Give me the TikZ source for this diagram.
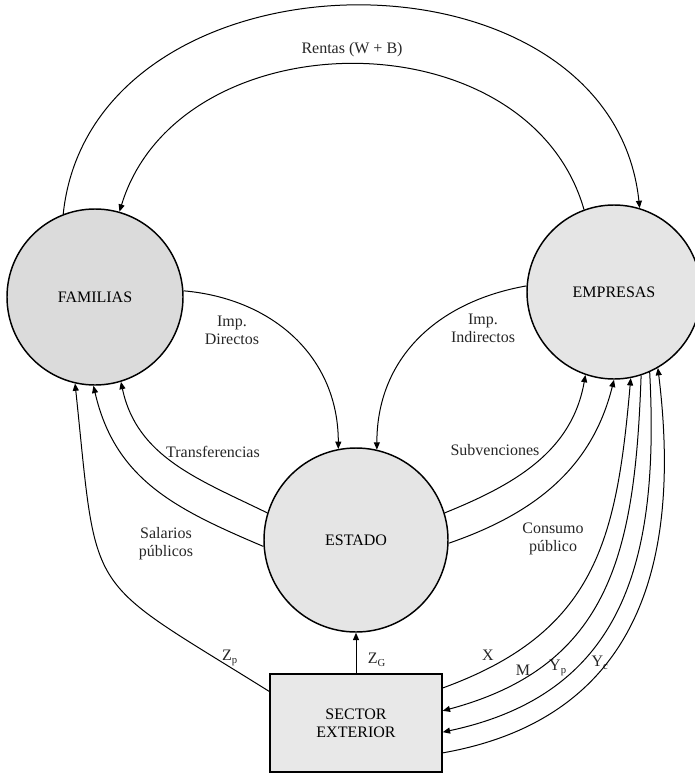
\documentclass[tikz,border=0pt]{standalone}
\usepackage{fontspec}
\setmainfont{Liberation Serif}
\usetikzlibrary{arrows.meta}

\begin{document}
\begin{tikzpicture}
[x=0.75pt,y=-0.75pt,
  circleDecorate/.style={shape=circle,inner sep=0pt,draw,line width=1.1pt,fill=black!10,
    font=\fontsize{12}{13.5}\selectfont},
  sectorDecorate/.style={shape=rectangle,draw,line width=1.1pt,fill=black!9,align=center,
    minimum width=129pt,minimum height=73.5pt,font=\fontsize{12}{13.5}\selectfont},
  flowDecorate/.style={line width=0.75pt,-{Triangle[length=5.5pt,width=4.5pt]}},
  labelDecorate/.style={align=center,inner sep=1pt,text=black!85,
    font=\fontsize{12}{13.5}\selectfont}]
\useasboundingbox (0,0) rectangle (695,774);
%% sectors
\node (fam) at (95,297) [circleDecorate,minimum size=132pt,fill=black!14] {FAMILIAS};
\node (emp) at (614,292) [circleDecorate,minimum size=130.5pt] {EMPRESAS};
\node (est) at (356,540) [circleDecorate,minimum size=138pt] {ESTADO};
\node (sec) at (356,723) [sectorDecorate] {SECTOR\\EXTERIOR};
%% flow labels
\foreach \labelname/\x/\y/\labeltext in {
  lRentas/352/50/{Rentas (W + B)}, lDirectos/232/330/{Imp.\\Directos},
  lIndirectos/483/328/{Imp.\\Indirectos}, lTransf/213/452/{Transferencias},
  lSalarios/166/544/{Salarios\\públicos}, lSubv/495/450/{Subvenciones},
  lConsumo/553/539/{Consumo\\público}, lZp/230/658/{Z\textsubscript{p}},
  lZg/377/660/{Z\textsubscript{G}}, lX/488/655/{X}, lM/523/670/{M},
  lYp/558/668/{Y\textsubscript{p}}, lYc/600/663/{Y\textsubscript{c}}}
{
  \node (\labelname) at (\x,\y) [labelDecorate] {\labeltext};
}
%% flows
\path
\foreach \startnode/\endnode/\o/\i/\l in {
  fam.111.5/emp.73.7/84/96/1.22, emp.110.9/fam.74.3/106/73/1.12,
  fam.4.5/est.101.7/-5/90/1.05, emp.176.8/est.77/190/90/1.05,
  est.163/fam.-73/154/-78/1, est.-176/fam.-91/157/-77/1.05,
  sec.160.2/fam.-103/148/-84/1.55,
  est.17/emp.-109/22/-100/1, est.-2/emp.-90.7/19/-104/1,
  sec.22.1/emp.-79/20/-95/1.15, emp.-72/sec.8.6/-92/15/1.15,
  emp.-66/sec.-6.6/-87/12/1.15, sec.-19.2/emp.-60/10/-83/1.15}
{
  (\startnode) edge[flowDecorate,out=\o,in=\i,looseness=\l] (\endnode)
};
\draw[flowDecorate] (sec) -- (est);
\end{tikzpicture}
\end{document}
